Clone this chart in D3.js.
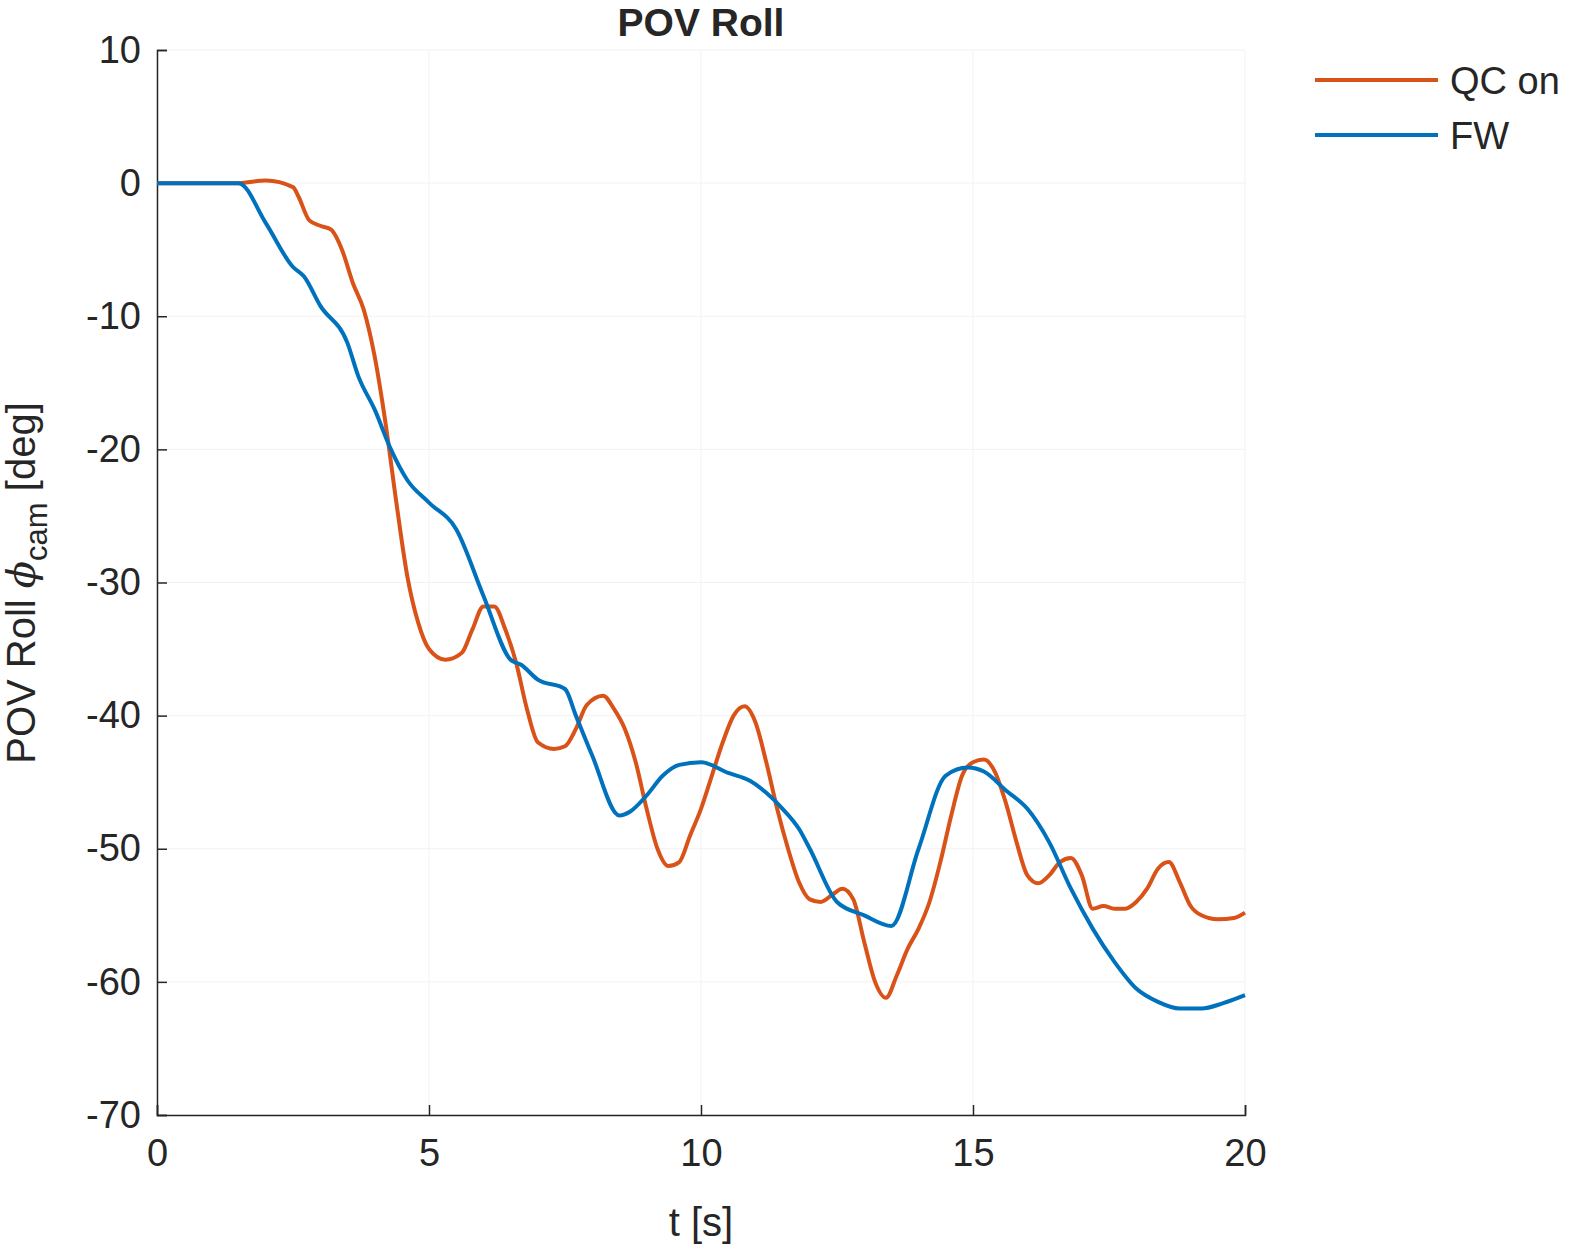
<!DOCTYPE html>
<html><head><meta charset="utf-8">
<script src="https://d3js.org/d3.v7.min.js"></script>
<style>html,body{margin:0;background:#fff;overflow:hidden}svg{display:block}text{font-family:"Liberation Sans",Arial,sans-serif;fill:#262626}</style>
</head><body><svg id="chart" width="1575" height="1253"></svg>
<script>
const seriesNames = ["QC on", "FW"];
const colors = ["#D95319", "#0072BD"];
const xTicks = [0, 5, 10, 15, 20];
const yTicks = [10, 0, -10, -20, -30, -40, -50, -60, -70];

const qcT = [0,1.5,2,2.5,2.6,2.8,3,3.2,3.4,3.6,3.8,4,4.2,4.4,4.6,4.8,5,5.3,5.6,5.8,6,6.2,6.4,6.6,6.8,7,7.3,7.5,7.7,7.9,8.2,8.4,8.6,8.8,9,9.2,9.4,9.6,9.8,10,10.2,10.4,10.6,10.8,11,11.2,11.4,11.6,11.8,12,12.2,12.4,12.6,12.8,13,13.2,13.4,13.6,13.8,14,14.2,14.4,14.6,14.8,15,15.2,15.4,15.6,15.8,16,16.2,16.4,16.6,16.8,17,17.2,17.4,17.6,17.8,18,18.2,18.4,18.6,18.8,19,19.2,19.5,19.8,20];
const qcV = [0,0,0.2,-0.3,-1,-2.8,-3.2,-3.5,-5,-7.5,-9.5,-13,-18,-24,-29.5,-33,-35,-35.8,-35.3,-33.5,-31.8,-31.8,-33.5,-36,-39.5,-42,-42.5,-42.3,-41,-39.2,-38.5,-39.5,-41,-43.5,-47,-50,-51.3,-51,-49,-47,-44.5,-42,-40,-39.3,-40.5,-43.5,-47,-50,-52.5,-53.8,-54,-53.5,-53,-53.8,-57,-60,-61.2,-59.5,-57.5,-56,-54,-51,-47.5,-44.5,-43.5,-43.3,-44.2,-46.5,-49.5,-52,-52.6,-52,-51,-50.7,-52,-54.5,-54.3,-54.5,-54.5,-54,-53,-51.5,-51,-52.5,-54.3,-55,-55.3,-55.2,-54.8];
const fwT = [0,1.5,2,2.5,2.7,3,3.5,3.7,4,4.3,4.6,5,5.5,6,6.5,6.7,7,7.5,7.7,8,8.5,8.7,9,9.3,9.6,10,10.5,10.9,11.2,11.5,11.8,12,12.5,13,13.5,14,14.5,14.9,15.2,15.6,16,16.4,16.8,17.2,17.6,18,18.4,18.8,19.2,19.6,20];
const fwV = [0,0,-3,-6.3,-7,-9.2,-12,-14.5,-17,-20,-22.3,-24,-26,-31,-35.8,-36.2,-37.3,-38,-40,-43,-47.5,-47.2,-46,-44.5,-43.7,-43.5,-44.3,-44.9,-45.8,-47,-48.5,-50,-54,-55,-55.8,-50,-44.5,-43.9,-44.2,-45.6,-47,-49.5,-53,-56,-58.5,-60.5,-61.5,-62,-62,-61.6,-61];

const svg = d3.select("#chart");
const x = d3.scaleLinear().domain([0, 20]).range([157, 1245]);
const y = d3.scaleLinear().domain([-70, 10]).range([1115, 50]);

// grid
const grid = svg.append("g").attr("stroke", "#f2f2f2").attr("stroke-width", 1);
xTicks.forEach(t => grid.append("line").attr("x1", x(t)).attr("x2", x(t)).attr("y1", 50).attr("y2", 1115));
yTicks.forEach(t => grid.append("line").attr("x1", 157).attr("x2", 1245).attr("y1", y(t)).attr("y2", y(t)));

const xAxis = svg.append("g").attr("transform", "translate(0,1115)")
    .call(d3.axisBottom(x).tickValues(xTicks).tickSize(-10).tickPadding(24).tickFormat(d => String(d)));
const yAxis = svg.append("g").attr("transform", "translate(157,0)")
    .call(d3.axisLeft(y).tickValues(yTicks).tickSize(-10).tickPadding(16).tickFormat(d => String(d)));
[xAxis, yAxis].forEach(a => {
    a.selectAll("path,line").attr("stroke", "#262626").attr("stroke-width", 1.5);
    a.selectAll("text").style("font-size", "38px").attr("fill", "#262626").style("font-family", '"Liberation Sans",Arial,sans-serif');
});

const line = d3.line().x(d => x(d[0])).y(d => y(d[1])).curve(d3.curveMonotoneX);
const data = [d3.zip(qcT, qcV), d3.zip(fwT, fwV)];
data.forEach((d, i) => {
    svg.append("path").datum(d).attr("d", line).attr("fill", "none")
        .attr("stroke", colors[i]).attr("stroke-width", 4);
});

svg.append("text").attr("x", 701).attr("y", 36).attr("text-anchor", "middle")
    .style("font-size", "39px").style("font-weight", "bold").attr("fill", "#000").text("POV Roll");
svg.append("text").attr("x", 701).attr("y", 1236).attr("text-anchor", "middle")
    .style("font-size", "40px").text("t [s]");
const yl = svg.append("text").attr("transform", "translate(35,583) rotate(-90)")
    .attr("text-anchor", "middle").style("font-size", "40px");
yl.append("tspan").text("POV Roll ");
yl.append("tspan").style("font-style", "italic").style("font-family", "'DejaVu Serif',serif").text("ϕ");
yl.append("tspan").attr("dy", 12).style("font-size", "31px").text("cam");
yl.append("tspan").attr("dy", -12).text(" [deg]");

// legend
seriesNames.forEach((n, i) => {
    const ly = 80 + i * 55;
    svg.append("line").attr("x1", 1315).attr("x2", 1438).attr("y1", ly).attr("y2", ly)
        .attr("stroke", colors[i]).attr("stroke-width", 4);
    svg.append("text").attr("x", 1450).attr("y", ly + 14).style("font-size", "38px").attr("fill", "#000").text(n);
});
</script></body></html>
